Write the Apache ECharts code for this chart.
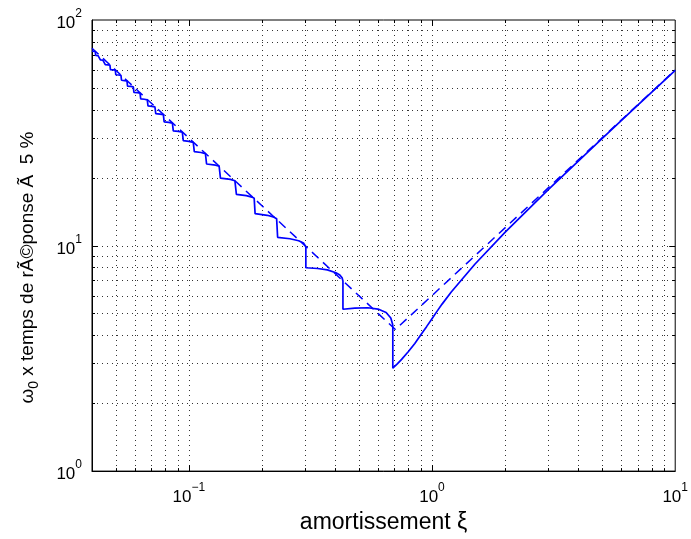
<!DOCTYPE html>
<html>
<head>
<meta charset="utf-8">
<script src="https://cdn.jsdelivr.net/npm/echarts@6/dist/echarts.min.js"></script>
<style>
html,body{margin:0;padding:0;background:#fff;}
#c{width:691px;height:539px;}
</style>
</head>
<body>
<div id="c"></div>
<script>
// damping ratio (x) and omega0 * 5% settling time (solid curve)
const solidXi = [0.04, 0.04056, 0.04125, 0.04142, 0.04142, 0.04236, 0.04311, 0.04330, 0.04330, 0.04433, 0.04515, 0.04536, 0.04536, 0.04650, 0.04740, 0.04763, 0.04763, 0.04888, 0.04985, 0.05013, 0.05013, 0.05152, 0.05262, 0.05290, 0.05290, 0.05445, 0.05569, 0.05600, 0.05600, 0.05775, 0.05914, 0.05949, 0.05949, 0.06147, 0.06304, 0.06344, 0.06344, 0.06570, 0.06751, 0.06796, 0.06796, 0.07056, 0.07256, 0.07316, 0.07316, 0.07618, 0.07860, 0.07921, 0.07921, 0.08278, 0.08564, 0.08636, 0.08636, 0.09064, 0.09407, 0.09493, 0.09493, 0.10014, 0.10432, 0.10536, 0.10536, 0.11229, 0.11706, 0.11836, 0.11836, 0.12892, 0.13331, 0.13497, 0.13497, 0.14834, 0.15476, 0.15696, 0.15696, 0.17238, 0.18191, 0.18571, 0.18734, 0.18734, 0.21020, 0.22415, 0.22969, 0.23189, 0.23189, 0.26067, 0.28295, 0.29610, 0.30132, 0.30292, 0.30292, 0.33872, 0.37139, 0.40274, 0.41791, 0.42684, 0.43037, 0.43037, 0.48192, 0.54499, 0.6, 0.64765, 0.67706, 0.68875, 0.6901, 0.6901, 0.70, 0.72, 0.75, 0.8, 0.85, 0.9, 0.95, 1.0, 1.05, 1.1, 1.2, 1.5, 2, 3, 5, 7, 10];
const solidT = [72.76, 72.67, 72.48, 72.32, 69.68, 69.54, 69.34, 69.18, 66.55, 66.41, 66.21, 66.04, 63.42, 63.27, 63.07, 62.90, 60.30, 60.14, 59.94, 59.77, 57.17, 57.02, 56.81, 56.63, 54.05, 53.89, 53.67, 53.49, 50.93, 50.77, 50.54, 50.35, 47.81, 47.64, 47.41, 47.22, 44.69, 44.52, 44.28, 44.08, 41.58, 41.40, 41.16, 40.95, 38.47, 38.28, 38.03, 37.82, 35.36, 35.17, 34.91, 34.69, 32.26, 32.06, 31.79, 31.56, 29.16, 28.96, 28.68, 28.43, 26.07, 25.86, 25.57, 25.31, 22.99, 22.71, 22.46, 22.19, 19.92, 19.65, 19.37, 19.09, 16.87, 16.65, 16.40, 16.22, 15.99, 13.85, 13.62, 13.36, 13.16, 12.92, 10.88, 10.72, 10.50, 10.26, 10.07, 9.89, 7.97, 7.91, 7.80, 7.58, 7.40, 7.20, 6.96, 5.22, 5.28, 5.30, 5.23, 5.05, 4.77, 4.48, 4.34, 2.86, 2.90, 2.99, 3.13, 3.39, 3.68, 4.02, 4.37, 4.74, 5.12, 5.50, 6.22, 8.26, 11.46, 17.64, 29.76, 41.80, 59.82];
// approximation (dashed)
const dashXi = [0.04, 0.7071, 10];
const dashT = [75, 4.243, 60];
// grid / tick positions
const xGridMinor = [0.05, 0.06, 0.07, 0.08, 0.09, 0.2, 0.3, 0.4, 0.5, 0.6, 0.7, 0.8, 0.9, 2, 3, 4, 5, 6, 7, 8, 9];
const xGridMajor = [0.1, 1];
const yGridMinor = [2, 3, 4, 5, 6, 7, 8, 9, 20, 30, 40, 50, 60, 70, 80, 90];
const yGridMajor = [10];
const xLabelValues = [0.1, 1, 10];
const yLabelValues = [1, 10, 100];

const FONT = "'Liberation Sans', Arial, Helvetica, sans-serif";
const solidData = solidXi.map((x, i) => [x, solidT[i]]);
const dashData = dashXi.map((x, i) => [x, dashT[i]]);
const vData = xGridMinor.map(v => [v, 1, 0]).concat(xGridMajor.map(v => [v, 1, 1]));
const hData = yGridMinor.map(v => [0.04, v, 0]).concat(yGridMajor.map(v => [0.04, v, 1]));

function isLabel(v, list) {
  return list.some(t => Math.abs(Math.log10(v) - Math.log10(t)) < 1e-6);
}
function powLabel(v) {
  const e = Math.round(Math.log10(v));
  const s = e < 0 ? '\u2212' + (-e) : String(e);
  return '{b|10}{s|' + s + '}';
}
const richLab = {
  b: {fontSize: 17, fontFamily: FONT, color: '#000', verticalAlign: 'bottom'},
  s: {fontSize: 12, fontFamily: FONT, color: '#000', verticalAlign: 'bottom', padding: [0, 0, 12, 0]}
};

const DOT = '#333';
function vRender(params, api) {
  const cs = params.coordSys;
  const p = api.coord([api.value(0), 1]);
  const x = Math.round(p[0]) + 0.5;
  const top = cs.y, bot = cs.y + cs.height;
  const len = api.value(2) ? 6 : 3;
  return {type: 'group', children: [
    {type: 'line', shape: {x1: x, y1: top, x2: x, y2: bot}, style: {stroke: DOT, lineWidth: 1, lineDash: [1, 4]}},
    {type: 'line', shape: {x1: x, y1: bot, x2: x, y2: bot - len}, style: {stroke: '#000', lineWidth: 1}},
    {type: 'line', shape: {x1: x, y1: top, x2: x, y2: top + len}, style: {stroke: '#000', lineWidth: 1}}
  ]};
}
function hRender(params, api) {
  const cs = params.coordSys;
  const p = api.coord([0.04, api.value(1)]);
  const y = Math.round(p[1]) + 0.5;
  const l = cs.x, r = cs.x + cs.width;
  const len = api.value(2) ? 6 : 3;
  return {type: 'group', children: [
    {type: 'line', shape: {x1: l, y1: y, x2: r, y2: y}, style: {stroke: DOT, lineWidth: 1, lineDash: [1, 4]}},
    {type: 'line', shape: {x1: l, y1: y, x2: l + len, y2: y}, style: {stroke: '#000', lineWidth: 1}},
    {type: 'line', shape: {x1: r, y1: y, x2: r - len, y2: y}, style: {stroke: '#000', lineWidth: 1}}
  ]};
}

const chart = echarts.init(document.getElementById('c'), null, {renderer: 'canvas'});
chart.setOption({
  animation: false,
  backgroundColor: '#fff',
  grid: {left: 92, right: 12, top: 20, bottom: 64, show: true, borderColor: '#000', borderWidth: 1, backgroundColor: 'transparent'},
  xAxis: {
    type: 'log', logBase: 10, min: 0.04, max: 10,
    axisLine: {show: true, lineStyle: {color: '#000', width: 1}},
    axisTick: {show: false}, splitLine: {show: false}, minorTick: {show: false},
    axisLabel: {
      margin: 11, showMinLabel: true,
      formatter: v => isLabel(v, xLabelValues) ? powLabel(v) : '',
      rich: richLab
    },
    name: 'amortissement \u03be', nameLocation: 'middle', nameGap: 33,
    nameTextStyle: {fontSize: 23, fontFamily: FONT, color: '#000'}
  },
  yAxis: {
    type: 'log', logBase: 10, min: 1, max: 100,
    axisLine: {show: true, lineStyle: {color: '#000', width: 1}},
    axisTick: {show: false}, splitLine: {show: false}, minorTick: {show: false},
    axisLabel: {
      margin: 10,
      formatter: v => isLabel(v, yLabelValues) ? powLabel(v) : '',
      rich: richLab
    },
    name: '{w|\u03c9}{sub|0}{t| x temps de r\u00c3\u00a9ponse \u00c3\u00a0 5 %}',
    nameLocation: 'middle', nameGap: 51, nameRotate: 90,
    nameTextStyle: {
      fontSize: 19, fontFamily: FONT, color: '#000',
      padding: [0, 44, 0, 0],
      rich: {
        w: {fontSize: 19, fontFamily: FONT, color: '#000'},
        sub: {fontSize: 14, fontFamily: FONT, color: '#000', verticalAlign: 'top', padding: [12, 0, 0, 0]},
        t: {fontSize: 19, fontFamily: FONT, color: '#000'}
      }
    }
  },
  series: [
    {type: 'custom', renderItem: vRender, data: vData, encode: {x: 0, y: 1}, silent: true, z: 1},
    {type: 'custom', renderItem: hRender, data: hData, encode: {x: 0, y: 1}, silent: true, z: 1},
    {type: 'line', data: dashData, showSymbol: false, z: 3,
      lineStyle: {color: '#0000ff', width: 1.5, type: [9, 6]}},
    {type: 'line', data: solidData, showSymbol: false, z: 4,
      lineStyle: {color: '#0000ff', width: 1.7}}
  ]
});
</script>
</body>
</html>
